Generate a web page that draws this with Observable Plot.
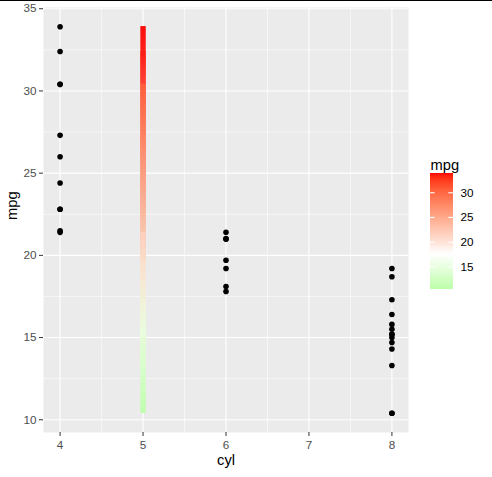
<!DOCTYPE html>
<html>
<head>
<meta charset="utf-8">
<script src="https://cdn.jsdelivr.net/npm/d3@7"></script>
<script src="https://cdn.jsdelivr.net/npm/@observablehq/plot@0.6"></script>
<style>
  html, body { margin: 0; padding: 0; background: white; }
  #wrap { position: relative; width: 492px; height: 477px; overflow: hidden; }
  #topline { position: absolute; left: 0; top: 0; width: 492px; height: 1px; background: black; }
  #legend { position: absolute; left: 430px; top: 0; }
</style>
</head>
<body>
<div id="wrap"><div id="main"></div><div id="legend"></div><div id="topline"></div></div>
<script>
// mtcars, in row order
const mpg = [21.0, 21.0, 22.8, 21.4, 18.7, 18.1, 14.3, 24.4, 22.8, 19.2, 17.8, 16.4, 17.3, 15.2, 10.4, 10.4,
             14.7, 32.4, 30.4, 33.9, 21.5, 15.5, 15.2, 13.3, 19.2, 27.3, 26.0, 30.4, 15.8, 19.7, 15.0, 21.4];
const cyl = [6, 6, 4, 6, 8, 6, 8, 4, 4, 6, 6, 8, 8, 8, 8, 8,
             8, 4, 4, 4, 4, 8, 8, 8, 8, 4, 4, 4, 8, 6, 8, 4];
const xTicks = [4, 5, 6, 7, 8];
const yTicks = [10, 15, 20, 25, 30, 35];
const legendTicks = [15, 20, 25, 30];
const barCyl = 5;
const colourMid = 17.5;
const colourLow = "#00ff00", colourMidC = "#ffffff", colourHigh = "#ff0000";

const points = mpg.map((m, i) => ({cyl: cyl[i], mpg: m}));
const mn = d3.min(mpg), mx = d3.max(mpg);
const half = Math.max(colourMid - mn, mx - colourMid);
const colorOpts = {
  type: "linear",
  domain: [colourMid - half, colourMid, colourMid + half],
  range: [colourLow, colourMidC, colourHigh],
  interpolate: "lab"
};
const cScale = Plot.scale({color: colorOpts});

// coloured path at cyl = 5 following mpg in row order, colour blended along each step
const pxPerUnit = 16.44;
const slices = [];
for (let i = 0; i < mpg.length - 1; i++) {
  const a = mpg[i], b = mpg[i + 1];
  if (a === b) continue;
  const n = Math.max(1, Math.ceil(Math.abs(b - a) * pxPerUnit));
  const interp = d3.interpolateRgb(cScale.apply(a), cScale.apply(b));
  for (let k = 0; k < n; k++) {
    slices.push({
      y1: a + (b - a) * k / n,
      y2: a + (b - a) * (k + 1) / n,
      c: interp((k + 0.5) / n)
    });
  }
}

const pad = (mx - mn) * 0.05;
const xMinor = [4.5, 5.5, 6.5, 7.5];
const yMinor = [12.5, 17.5, 22.5, 27.5, 32.5];
const font = "'Liberation Sans', Arial, sans-serif";

const main = Plot.plot({
  width: 492, height: 477,
  marginLeft: 43, marginRight: 84, marginTop: 7, marginBottom: 45,
  x: {domain: [3.8, 8.2]},
  y: {domain: [mn - pad, mx + pad]},
  color: {type: "identity"},
  style: {fontFamily: font, fontSize: "11.7px", background: "white", color: "black"},
  marks: [
    Plot.frame({fill: "#EBEBEB", stroke: null}),
    Plot.ruleX(xMinor, {stroke: "white", strokeWidth: 0.55}),
    Plot.ruleY(yMinor, {stroke: "white", strokeWidth: 0.55}),
    Plot.ruleX(xTicks, {stroke: "white", strokeWidth: 1.1}),
    Plot.ruleY(yTicks, {stroke: "white", strokeWidth: 1.1}),
    Plot.axisX(xTicks, {tickSize: 4, tickPadding: 4, stroke: "#333333", fill: "#4D4D4D", label: null, fontSize: 11.7}),
    Plot.axisY(yTicks, {tickSize: 4, tickPadding: 3, stroke: "#333333", fill: "#4D4D4D", label: null, fontSize: 11.7}),
    Plot.ruleX(slices, {x: () => barCyl, y1: "y1", y2: "y2", stroke: "c", strokeWidth: 5}),
    Plot.dot(points, {x: "cyl", y: "mpg", r: 2.8, fill: "black", stroke: null}),
    Plot.text(["cyl"], {frameAnchor: "bottom", dy: 32, fontSize: 14.7, fill: "black"}),
    Plot.text(["mpg"], {frameAnchor: "left", dx: -31, rotate: -90, fontSize: 14.7, fill: "black"})
  ]
});
document.getElementById("main").appendChild(main);

// legend: vertical colour bar
const nLeg = 120;
const step = (mx - mn) / nLeg;
const legSlices = d3.range(nLeg).map(i => ({y1: mn + i * step, y2: mn + (i + 1) * step, v: mn + (i + 0.5) * step}));
const legend = Plot.plot({
  width: 62, height: 477,
  marginLeft: 0, marginRight: 39, marginTop: 173, marginBottom: 188,
  x: {domain: [0, 1], axis: null},
  y: {domain: [mn, mx], axis: null},
  color: colorOpts,
  style: {fontFamily: font, fontSize: "11.7px", background: "transparent", color: "black", overflow: "visible"},
  marks: [
    Plot.rect(legSlices, {x1: 0, x2: 1, y1: "y1", y2: "y2", fill: "v", inset: 0, shapeRendering: "crispEdges"}),
    Plot.ruleY(legendTicks, {x1: 0, x2: 0.2, stroke: "white", strokeWidth: 1.1}),
    Plot.ruleY(legendTicks, {x1: 0.8, x2: 1, stroke: "white", strokeWidth: 1.1}),
    Plot.text(legendTicks, {x: 1, y: d => d, dx: 7, textAnchor: "start", fontSize: 11.7, fill: "black"}),
    Plot.text(["mpg"], {frameAnchor: "top-left", dy: -14, textAnchor: "start", fontSize: 14.7, fill: "black"})
  ]
});
document.getElementById("legend").appendChild(legend);
</script>
</body>
</html>
